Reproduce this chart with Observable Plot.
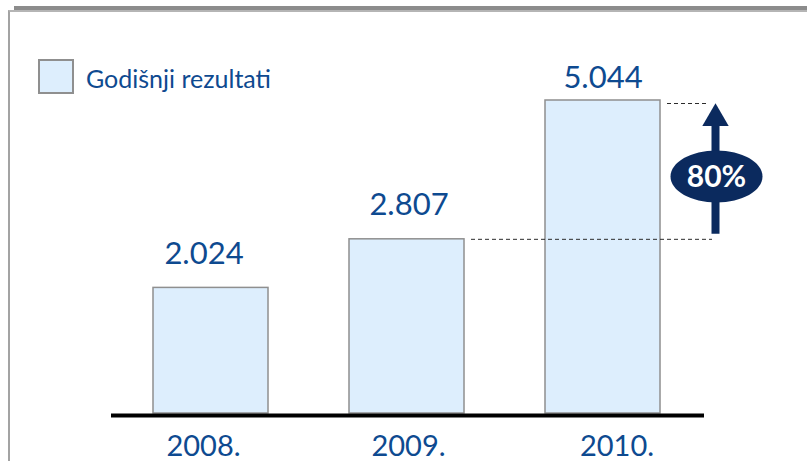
<!DOCTYPE html>
<html>
<head>
<meta charset="utf-8">
<script src="https://cdn.jsdelivr.net/npm/d3@7"></script>
<script src="https://cdn.jsdelivr.net/npm/@observablehq/plot@0.6"></script>
<style>
  html, body { margin: 0; padding: 0; background: #fff; }
  #wrap { position: relative; width: 807px; height: 461px; overflow: hidden; font-family: Lato, "Noto Sans", sans-serif; }
  #band { position: absolute; left: 14px; top: 6px; right: 0; height: 5px; background: #8c8c8c; }
  #frame { position: absolute; left: 8px; top: 10px; right: -10px; bottom: -10px; border-left: 2px solid #a3a3a3; border-top: 2px solid #b5b5b5; }
  #chart { position: absolute; left: 0; top: 0; }
  #legend { position: absolute; left: 38px; top: 59px; }
  #legend .sw { position: absolute; left: 0; top: 0; width: 32px; height: 31px; border: 2px solid #8f8f8f; }
  #legend .lt { position: absolute; left: 48px; top: 7px; white-space: nowrap; font-size: 25px; line-height: 25px; }
</style>
</head>
<body>
<div id="wrap">
  <div id="band"></div>
  <div id="frame"></div>
  <div id="chart"></div>
  <div id="legend"><span class="sw"></span><span class="lt"></span></div>
</div>
<script>
// ---- data ----
const years = ["2008.", "2009.", "2010."];
const results = [2024, 2807, 5044];
const seriesName = "Godišnji rezultati";

// ---- styles ----
const textBlue = "#0e4a90";
const navy = "#0b2a5e";
const barFill = "#ddeefd";
const barEdge = "#8f8f8f";

const data = years.map((year, i) => ({year, value: results[i]}));
const fmt = d3.formatLocale({decimal: ",", thousands: ".", grouping: [3], currency: ["", ""]}).format(",d");
const growth = results[2] / results[1] - 1;
const growthLabel = d3.format(".0%")(growth);
const last = years[years.length - 1];

// custom ellipse symbol for the growth badge
const ellipse = {
  draw(ctx) {
    const rx = 46, ry = 26, k = 0.5523;
    ctx.moveTo(rx, 0);
    ctx.bezierCurveTo(rx, ry * k, rx * k, ry, 0, ry);
    ctx.bezierCurveTo(-rx * k, ry, -rx, ry * k, -rx, 0);
    ctx.bezierCurveTo(-rx, -ry * k, -rx * k, -ry, 0, -ry);
    ctx.bezierCurveTo(rx * k, -ry, rx, -ry * k, rx, 0);
    ctx.closePath();
  }
};

const arrowX = 112.5;

const plot = Plot.plot({
  width: 807,
  height: 461,
  marginLeft: 111,
  marginRight: 103,
  marginTop: 0,
  marginBottom: 48,
  x: {domain: years, range: [72, 742], padding: 0.412, axis: null},
  y: {domain: [0, d3.max(results)], range: [413, 100], axis: null},
  style: {background: "transparent", overflow: "visible", fontFamily: "Lato, 'Noto Sans', sans-serif"},
  marks: [
    Plot.barY(data, {x: "year", y: "value", fill: barFill, stroke: barEdge, strokeWidth: 1.5}),
    // dashed guide lines from the 2009 and 2010 tops
    Plot.ruleY([results[1]], {stroke: "#2b2b2b", strokeWidth: 1, strokeDasharray: "4,3", insetLeft: 360, insetRight: -8}),
    Plot.ruleY([results[2]], {stroke: "#2b2b2b", strokeWidth: 1, strokeDasharray: "4,3", insetLeft: 556, insetRight: -3, dy: 3}),
    // baseline
    Plot.ruleY([0], {stroke: "#000", strokeWidth: 4, dy: 2}),
    // value labels
    Plot.text(data.slice(0, 1), {x: "year", y: "value", text: d => fmt(d.value), dx: -7, dy: -24, lineAnchor: "bottom", fontSize: 31, fill: textBlue}),
    Plot.text(data.slice(1, 2), {x: "year", y: "value", text: d => fmt(d.value), dx: 2, dy: -24, lineAnchor: "bottom", fontSize: 31, fill: textBlue}),
    Plot.text(data.slice(2, 3), {x: "year", y: "value", text: d => fmt(d.value), dx: 0, dy: -13, lineAnchor: "bottom", fontSize: 31, fill: textBlue}),
    // x axis labels
    Plot.axisX([years[0]], {tickSize: 0, tickPadding: 22, fontSize: 29, fill: textBlue, dx: -7.5, label: null}),
    Plot.axisX([years[1]], {tickSize: 0, tickPadding: 22, fontSize: 29, fill: textBlue, dx: 1.5, label: null}),
    Plot.axisX([years[2]], {tickSize: 0, tickPadding: 22, fontSize: 29, fill: textBlue, dx: 14, label: null}),
    // growth arrow (y1 = top, y2 = bottom)
    Plot.ruleX([{year: last, top: results[2], bottom: results[1]}], {x: "year", y1: "top", y2: "bottom", stroke: navy, strokeWidth: 8, insetTop: 24, insetBottom: 5, dx: arrowX}),
    Plot.dot([{year: last, value: results[2]}], {x: "year", y: "value", symbol: "triangle", r: 9.8, fill: navy, stroke: "none", dx: arrowX, dy: 18}),
    Plot.dot([{year: last, value: (results[1] + results[2]) / 2}], {x: "year", y: "value", symbol: ellipse, fill: navy, stroke: "none", dx: arrowX + 1, dy: 6.5}),
    Plot.text([{year: last, value: (results[1] + results[2]) / 2}], {x: "year", y: "value", text: () => growthLabel, fill: "#fff", fontSize: 30, fontWeight: "bold", dx: arrowX + 1, dy: 7.5})
  ]
});

document.getElementById("chart").appendChild(plot);
document.querySelector("#legend .sw").style.background = barFill;
const lt = document.querySelector("#legend .lt");
lt.textContent = seriesName;
lt.style.color = textBlue;
</script>
</body>
</html>
